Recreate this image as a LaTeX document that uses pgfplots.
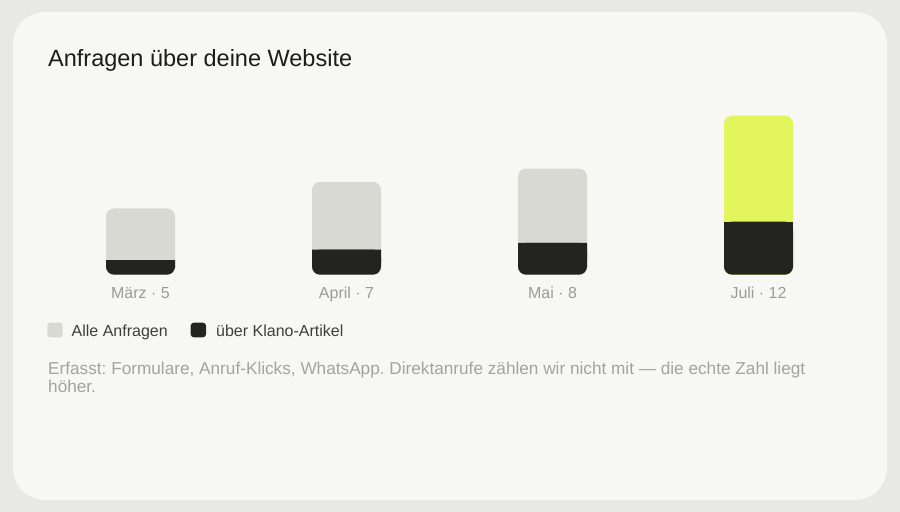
\documentclass[border=0pt]{standalone}
\usepackage{pgfplots}
\pgfplotsset{compat=1.18}
\usepackage{fontspec}
\setmainfont{Liberation Sans}
\frenchspacing
\definecolor{outerbg}{HTML}{E8E8E6}
\definecolor{cardbg}{HTML}{F7F7F4}
\definecolor{barlight}{HTML}{D9D9D4}
\definecolor{bardark}{HTML}{23231F}
\definecolor{baryellow}{HTML}{E2F55C}
\definecolor{titlecol}{HTML}{1C1C1A}
\definecolor{tickcol}{HTML}{9C9C96}
\definecolor{legcol}{HTML}{3E3E3A}
\definecolor{notecol}{HTML}{A4A49D}
\pgfplotstableread{
x total klano half
0 5 1.1 0.55
1 7 1.9 0.95
2 8 2.4 1.2
}\mainbars
\pgfplotstableread{
x total klano half
3 12 4 2
}\julibar
\begin{document}
\begin{tikzpicture}[x=1bp,y=1bp]
\fill[outerbg] (0,0) rectangle (900,512);
\fill[cardbg, rounded corners=32bp] (13,12) rectangle (887,500);
\node[anchor=base west, inner sep=0, text=titlecol, font=\fontsize{23.5bp}{28bp}\selectfont] at (48,445.3) {Anfragen über deine Website};
\pgfplotsset{mybars/.style={
  at={(37.5bp,237.3bp)}, anchor=south west, scale only axis,
  width=824bp, height=159bp, xmin=-0.5, xmax=3.5, ymin=0, ymax=12,
  axis line style={draw=none}, ytick=\empty, xtick style={draw=none},
  ybar, bar width=69bp, bar shift=0bp, clip=false}}
\begin{axis}[mybars,
  xtick={0,1,2,3}, xticklabels={März · 5, April · 7, Mai · 8, Juli · 12},
  xticklabel style={anchor=base, yshift=-19.8bp, text=tickcol, font=\fontsize{16bp}{19bp}\selectfont}]
\addplot[fill=barlight, draw=none, rounded corners=8bp] table[x=x, y=total] {\mainbars};
\addplot[fill=baryellow, draw=none, rounded corners=8bp] table[x=x, y=total] {\julibar};
\addplot[fill=bardark, draw=none, rounded corners=8bp] table[x=x, y=klano] {\mainbars};
\addplot[fill=bardark, draw=none, rounded corners=8bp] table[x=x, y=klano] {\julibar};
\end{axis}
\begin{axis}[mybars, ybar stacked, xtick=\empty]
\addplot[fill=none, draw=none] table[x=x, y=half] {\mainbars};
\addplot[fill=bardark, draw=none] table[x=x, y=half] {\mainbars};
\end{axis}
\begin{axis}[mybars, ybar stacked, xtick=\empty]
\addplot[fill=none, draw=none] table[x=x, y=half] {\julibar};
\addplot[fill=bardark, draw=none] table[x=x, y=half] {\julibar};
\end{axis}
% legend
\fill[barlight, rounded corners=3bp] (47.3,174.7) rectangle (62.7,189.3);
\node[anchor=base west, inner sep=0, text=legcol, font=\fontsize{16bp}{19bp}\selectfont] at (71.5,175.5) {Alle Anfragen};
\fill[bardark, rounded corners=3bp] (190.7,174.7) rectangle (206,189.3);
\node[anchor=base west, inner sep=0, text=legcol, font=\fontsize{16bp}{19bp}\selectfont] at (216,175.5) {über Klano-Artikel};
% note
\node[anchor=base west, inner sep=0, text=notecol, font=\fontsize{17.2bp}{20bp}\selectfont] at (48,137) {Erfasst: Formulare, Anruf-Klicks, WhatsApp. Direktanrufe zählen wir nicht mit — die echte Zahl liegt};
\node[anchor=base west, inner sep=0, text=notecol, font=\fontsize{17.2bp}{20bp}\selectfont] at (48,119.3) {höher.};
\end{tikzpicture}
\end{document}
